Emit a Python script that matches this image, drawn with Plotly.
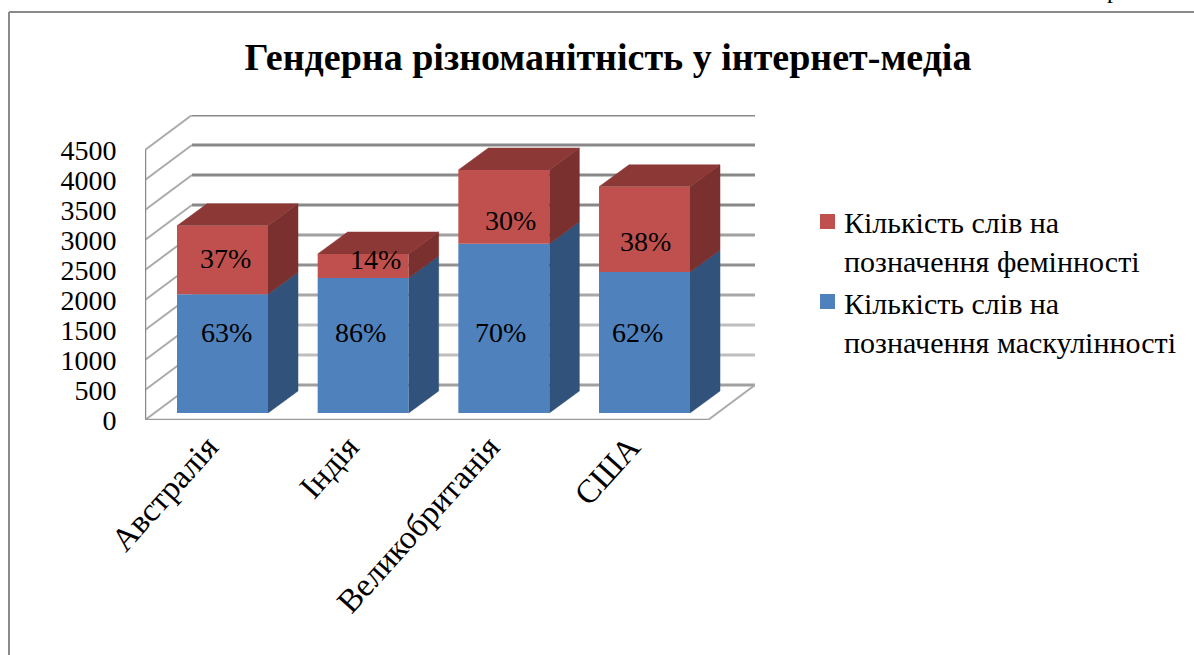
"""Stacked bars with a hand-built 3D look: Plotly has no 3D bar, so depth is projected."""
import plotly.graph_objects as go

categories = ["Австралія", "Індія", "Великобританія", "США"]
masculine = [1980, 2250, 2820, 2350]
feminine = [1140, 400, 1230, 1420]
masculine_labels = ["63%", "86%", "70%", "62%"]
feminine_labels = ["37%", "14%", "30%", "38%"]
y_ticks = [0, 500, 1000, 1500, 2000, 2500, 3000, 3500, 4000, 4500]
grid_colors = ["#A0A0A0", "#BEBEBE", "#BEBEBE", "#A8A8A8", "#909090", "#A0A0A0", "#888888", "#888888", "#888888", "#888888"]
masculine_name = "Кількість слів на<br>позначення маскулінності"
feminine_name = "Кількість слів на<br>позначення фемінності"

# pixel geometry of the plot area
LEFT, RIGHT, TOP, BOTTOM = 145, 755, 115, 420
STEP = 140.67
PX_PER_UNIT = 0.06
BAR_W = 91 / STEP
DX = 30 / STEP              # bar depth in category units
DY = 22 / PX_PER_UNIT       # bar depth in value units
BASE = 7 / PX_PER_UNIT      # bars stand a little behind the front edge
WALL_DX = 47 / STEP
WALL_DY = 35 / PX_PER_UNIT
X0 = (LEFT - 222.5) / STEP
X1 = (RIGHT - 222.5) / STEP
Y1 = (BOTTOM - TOP) / PX_PER_UNIT
TICK_SHIFT = 0.105          # rotated labels end just left of the bar centre

BLUE, BLUE_SIDE = "#4F81BD", "#31527A"
RED, RED_SIDE, RED_TOP = "#C0504D", "#79302E", "#8C3836"
SERIF = "Liberation Serif"


def px_x(p):
    return (p - LEFT) / (RIGHT - LEFT)


def px_y(p):
    return (BOTTOM - p) / (BOTTOM - TOP)


def face(xs, ys, color):
    return go.Scatter(x=xs, y=ys, mode="lines", fill="toself", fillcolor=color,
                      line=dict(color=color, width=0.5), hoverinfo="skip", showlegend=False)


fig = go.Figure()
fig.add_bar(x=list(range(4)), y=masculine, base=[BASE] * 4, width=BAR_W, marker_color=BLUE,
            marker_line_width=0, name=masculine_name, showlegend=False)
fig.add_bar(x=list(range(4)), y=feminine, base=[BASE + m for m in masculine], width=BAR_W, marker_color=RED,
            marker_line_width=0, name=feminine_name, showlegend=False)

for i in range(4):
    right = i + BAR_W / 2
    left = i - BAR_W / 2
    y_low = BASE
    y_mid = BASE + masculine[i]
    y_top = y_mid + feminine[i]
    fig.add_trace(face([right, right + DX, right + DX, right], [y_low, y_low + DY, y_mid + DY, y_mid], BLUE_SIDE))
    fig.add_trace(face([right, right + DX, right + DX, right], [y_mid, y_mid + DY, y_top + DY, y_top], RED_SIDE))
    fig.add_trace(face([left, left + DX, right + DX, right], [y_top, y_top + DY, y_top + DY, y_top], RED_TOP))

# legend text comes from these; the keys are drawn as shapes because plotly centres
# them on both lines of the name and the source aligns them with the first line
fig.add_scatter(x=[None], y=[None], mode="markers", name=masculine_name,
                marker=dict(symbol="square", size=15, color="rgba(0,0,0,0)"))
fig.add_scatter(x=[None], y=[None], mode="markers", name=feminine_name,
                marker=dict(symbol="square", size=15, color="rgba(0,0,0,0)"))

# back wall gridlines and left wall diagonals go under the bars
shapes = []
for v, c in zip(y_ticks, grid_colors):
    shapes.append(dict(type="line", layer="below", xref="x", yref="y", x0=X0 + WALL_DX, x1=X1,
                       y0=v + WALL_DY, y1=v + WALL_DY, line=dict(color=c, width=3)))
    shapes.append(dict(type="line", layer="below", xref="x", yref="y", x0=X0, x1=X0 + WALL_DX,
                       y0=v, y1=v + WALL_DY, line=dict(color="#ABABAB", width=2)))
# front axis lines and floor edge
shapes.append(dict(type="line", layer="below", xref="x", yref="y", x0=X0, x1=X0, y0=0, y1=4500,
                   line=dict(color="#8A8A8A", width=2.5)))
shapes.append(dict(type="line", layer="below", xref="x", yref="y", x0=X0, x1=X1 - WALL_DX, y0=0, y1=0,
                   line=dict(color="#9A9A9A", width=2.5)))
shapes.append(dict(type="line", layer="below", xref="x", yref="y", x0=X1 - WALL_DX, x1=X1, y0=0, y1=WALL_DY,
                   line=dict(color="#ABABAB", width=2)))
# chart border, open at the right and bottom edges of the page
shapes.append(dict(type="line", xref="paper", yref="paper", x0=px_x(9), x1=px_x(1194), y0=px_y(12), y1=px_y(12),
                   line=dict(color="#8A8A8A", width=2)))
shapes.append(dict(type="line", xref="paper", yref="paper", x0=px_x(9), x1=px_x(9), y0=px_y(12), y1=px_y(655),
                   line=dict(color="#8A8A8A", width=2)))
# legend keys
for top_px, color in [(214, RED), (294, BLUE)]:
    shapes.append(dict(type="rect", xref="paper", yref="paper", x0=px_x(820), x1=px_x(835),
                       y0=px_y(top_px + 15), y1=px_y(top_px), fillcolor=color, line=dict(width=0)))

# data labels sit where the source placed them, not at the bar centres
label_px = [(226, 332), (360, 332), (500, 332), (637, 332)]
label_px_top = [(225, 258), (375, 259), (510, 220), (645, 241)]
annotations = []
for (px, py), text in zip(label_px + label_px_top, masculine_labels + feminine_labels):
    annotations.append(dict(x=px_x(px), y=px_y(py), xref="paper", yref="paper", text=text, showarrow=False,
                            xanchor="center", yanchor="middle",
                            font=dict(family=SERIF, size=28, color="#000000")))
# foot of a letter from the page text above the chart, cut off by the image edge
annotations.append(dict(x=px_x(1113), y=px_y(5), xref="paper", yref="paper", text="р", showarrow=False,
                        xanchor="center", yanchor="bottom", font=dict(family=SERIF, size=24, color="#000000")))

fig.update_layout(
    width=1194, height=655, autosize=False,
    margin=dict(l=LEFT, r=1194 - RIGHT, t=TOP, b=655 - BOTTOM),
    barmode="overlay",
    paper_bgcolor="#FFFFFF",
    plot_bgcolor="#FFFFFF",
    font=dict(family=SERIF, color="#000000"),
    title=dict(text="<b>Гендерна різноманітність у інтернет-медіа</b>", x=608 / 1194, xanchor="center",
               y=1 - 57 / 655, yanchor="middle", font=dict(family=SERIF, size=38, color="#000000")),
    xaxis=dict(range=[X0, X1], tickmode="array", tickvals=[i - TICK_SHIFT for i in range(4)], ticktext=categories,
               tickangle=-48, showgrid=False, zeroline=False, showline=False, ticks="", 
               tickfont=dict(family=SERIF, size=33)),
    yaxis=dict(range=[0, Y1], tickmode="array", tickvals=y_ticks, showgrid=False, zeroline=False, showline=False,
               ticks="outside", ticklen=22, tickcolor="rgba(0,0,0,0)", tickfont=dict(family=SERIF, size=28)),
    legend=dict(x=px_x(804), y=px_y(195), xanchor="left", yanchor="top", traceorder="reversed",
                font=dict(family=SERIF, size=30), itemsizing="trace", bgcolor="rgba(0,0,0,0)"),
    shapes=shapes,
    annotations=annotations,
)

fig.write_html("out.html", config={"displayModeBar": False}, post_script="document.body.style.margin='0';")
